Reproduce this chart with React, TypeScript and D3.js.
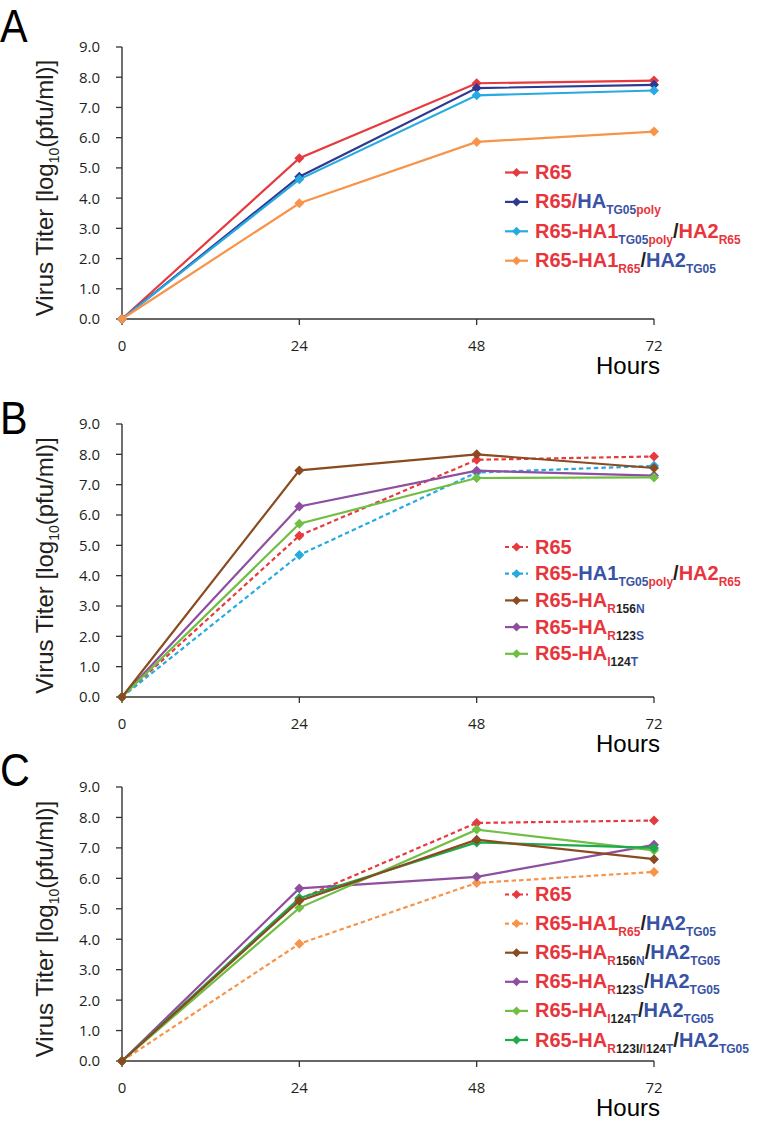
import React from "react";
import * as d3 from "d3";

// ---------- data ----------
const hours = [0, 24, 48, 72];
const yTicks = [0, 1, 2, 3, 4, 5, 6, 7, 8, 9];
const xTickLabels = ["0", "24", "48", "72"];

// Panel A
const r65A = [0, 5.32, 7.8, 7.89];
const polyA = [0, 4.71, 7.64, 7.75];
const ha1polyA = [0, 4.62, 7.4, 7.56];
const ha1r65A = [0, 3.83, 5.86, 6.2];
// Panel B
const r65B = [0, 5.32, 7.82, 7.93];
const ha1polyB = [0, 4.68, 7.4, 7.62];
const r156nB = [0, 7.47, 8.0, 7.55];
const r123sB = [0, 6.28, 7.46, 7.3];
const i124tB = [0, 5.71, 7.22, 7.24];
// Panel C
const r65C = [0, 5.32, 7.82, 7.9];
const ha1r65C = [0, 3.85, 5.85, 6.21];
const r156nC = [0, 5.26, 7.27, 6.63];
const r123sC = [0, 5.67, 6.05, 7.1];
const i124tC = [0, 5.03, 7.6, 6.92];
const dblC = [0, 5.35, 7.18, 7.0];

const RED = "#e8343b";
const BLUE = "#3953a4";
const BLK = "#231f20";

type Seg = { t: string; c: string; sub?: boolean };
type Series = { values: number[]; color: string; dashed: boolean; label: Seg[] };

const lblR65: Seg[] = [{ t: "R65", c: RED }];
const lblPolyA: Seg[] = [
  { t: "R65/", c: RED },
  { t: "HA", c: BLUE },
  { t: "TG05", c: BLUE, sub: true },
  { t: "poly", c: RED, sub: true },
];
const lblHa1PolyA: Seg[] = [
  { t: "R65-HA1", c: RED },
  { t: "TG05", c: BLUE, sub: true },
  { t: "poly", c: RED, sub: true },
  { t: "/", c: BLK },
  { t: "HA2", c: RED },
  { t: "R65", c: RED, sub: true },
];
const lblHa1PolyB: Seg[] = [
  { t: "R65-", c: RED },
  { t: "HA1", c: BLUE },
  { t: "TG05", c: BLUE, sub: true },
  { t: "poly", c: RED, sub: true },
  { t: "/", c: BLK },
  { t: "HA2", c: RED },
  { t: "R65", c: RED, sub: true },
];
const lblHa1R65: Seg[] = [
  { t: "R65-HA1", c: RED },
  { t: "R65", c: RED, sub: true },
  { t: "/", c: BLK },
  { t: "HA2", c: BLUE },
  { t: "TG05", c: BLUE, sub: true },
];
const mut = (a: string, n: string, b: string): Seg[] => [
  { t: "R65-HA", c: RED },
  { t: a, c: RED, sub: true },
  { t: n, c: BLK, sub: true },
  { t: b, c: BLUE, sub: true },
];
const tg05: Seg[] = [
  { t: "/", c: BLK },
  { t: "HA2", c: BLUE },
  { t: "TG05", c: BLUE, sub: true },
];
const lblDbl: Seg[] = [
  { t: "R65-HA", c: RED },
  { t: "R", c: RED, sub: true },
  { t: "123I/", c: BLK, sub: true },
  { t: "I", c: RED, sub: true },
  { t: "124", c: BLK, sub: true },
  { t: "T", c: BLUE, sub: true },
  ...tg05,
];

const C_R65 = "#e63a3f";
const C_DBLUE = "#2e3a92";
const C_CYAN = "#27aae1";
const C_ORANGE = "#f7944a";
const C_BROWN = "#8a4b20";
const C_PURPLE = "#8e4f9f";
const C_LGREEN = "#70bf44";
const C_GREEN = "#1daa4a";

const seriesA: Series[] = [
  { values: r65A, color: C_R65, dashed: false, label: lblR65 },
  { values: polyA, color: C_DBLUE, dashed: false, label: lblPolyA },
  { values: ha1polyA, color: C_CYAN, dashed: false, label: lblHa1PolyA },
  { values: ha1r65A, color: C_ORANGE, dashed: false, label: lblHa1R65 },
];
const seriesB: Series[] = [
  { values: r65B, color: C_R65, dashed: true, label: lblR65 },
  { values: ha1polyB, color: C_CYAN, dashed: true, label: lblHa1PolyB },
  { values: r156nB, color: C_BROWN, dashed: false, label: mut("R", "156", "N") },
  { values: r123sB, color: C_PURPLE, dashed: false, label: mut("R", "123", "S") },
  { values: i124tB, color: C_LGREEN, dashed: false, label: mut("I", "124", "T") },
];
const seriesC: Series[] = [
  { values: r65C, color: C_R65, dashed: true, label: lblR65 },
  { values: ha1r65C, color: C_ORANGE, dashed: true, label: lblHa1R65 },
  { values: r156nC, color: C_BROWN, dashed: false, label: [...mut("R", "156", "N"), ...tg05] },
  { values: r123sC, color: C_PURPLE, dashed: false, label: [...mut("R", "123", "S"), ...tg05] },
  { values: i124tC, color: C_LGREEN, dashed: false, label: [...mut("I", "124", "T"), ...tg05] },
  { values: dblC, color: C_GREEN, dashed: false, label: lblDbl },
];

type Panel = {
  letter: string;
  letterY: number;
  top: number;
  bottom: number;
  series: Series[];
  drawOrder: number[];
  legendY: number;
  legendStep: number;
};

const panels: Panel[] = [
  { letter: "A", letterY: 42, top: 47, bottom: 319, series: seriesA, drawOrder: [0, 1, 2, 3], legendY: 179, legendStep: 29.4 },
  { letter: "B", letterY: 434, top: 424, bottom: 697, series: seriesB, drawOrder: [0, 1, 3, 4, 2], legendY: 553.5, legendStep: 26.7 },
  { letter: "C", letterY: 786, top: 787, bottom: 1061, series: seriesC, drawOrder: [0, 1, 3, 4, 5, 2], legendY: 901, legendStep: 29.1 },
];

const X0 = 122;
const X1 = 654;
const FONT = "'Liberation Sans', Arial, sans-serif";
const TICKFONT = "'Open Sans', 'Liberation Sans', sans-serif";

function diamond(cx: number, cy: number, r: number) {
  return `M${cx},${cy - r}L${cx + r},${cy}L${cx},${cy + r}L${cx - r},${cy}Z`;
}

function LegendText({ x, y, segs }: { x: number; y: number; segs: Seg[] }) {
  let cur = 0;
  return (
    <text x={x} y={y} fontFamily={FONT} fontWeight="bold" fontSize={20}>
      {segs.map((s, i) => {
        const target = s.sub ? 6 : 0;
        const dy = target - cur;
        cur = target;
        return (
          <tspan key={i} dy={dy} fill={s.c} fontSize={s.sub ? 12 : 20}>
            {s.t}
          </tspan>
        );
      })}
    </text>
  );
}

function PanelView({ p }: { p: Panel }) {
  const x = d3.scaleLinear().domain([0, 72]).range([X0, X1]);
  const y = d3.scaleLinear().domain([0, 9]).range([p.bottom, p.top]);
  const line = d3
    .line<number>()
    .x((_, i) => x(hours[i]))
    .y((v) => y(v));
  const midY = (p.top + p.bottom) / 2 + 5;
  return (
    <g>
      <text
        x={0}
        y={p.letterY}
        fontFamily={FONT}
        fontSize={47}
        fill="#000"
        transform={`scale(0.88,1)`}
      >
        {p.letter}
      </text>
      {/* y-axis title */}
      <text
        transform={`translate(53,${midY}) rotate(-90)`}
        textAnchor="middle"
        fontFamily={FONT}
        fontSize={24}
        fill={BLK}
      >
        Virus Titer [log
        <tspan fontSize={14} dy={6}>
          10
        </tspan>
        <tspan dy={-6}>(pfu/ml)]</tspan>
      </text>
      {/* axes */}
      <line x1={X0} x2={X0} y1={y(9)} y2={y(0)} stroke="#333" strokeWidth={1.4} />
      <line x1={X0} x2={X1} y1={y(0)} y2={y(0)} stroke="#333" strokeWidth={1.4} />
      {yTicks.map((t) => (
        <g key={t}>
          <line x1={X0 - 6} x2={X0} y1={y(t)} y2={y(t)} stroke="#333" strokeWidth={1.3} />
          <text
            x={X0 - 22}
            y={y(t)}
            dy="0.36em"
            textAnchor="end"
            fontFamily={TICKFONT}
            fontSize={15}
            fill={BLK}
          >
            {t.toFixed(1)}
          </text>
        </g>
      ))}
      {hours.map((h, i) => (
        <g key={h}>
          <line x1={x(h)} x2={x(h)} y1={y(0)} y2={y(0) + 6} stroke="#333" strokeWidth={1.3} />
          <text
            x={x(h)}
            y={y(0) + 32}
            textAnchor="middle"
            fontFamily={TICKFONT}
            fontSize={15}
            fill={BLK}
          >
            {xTickLabels[i]}
          </text>
        </g>
      ))}
      <text x={628} y={y(0) + 55} textAnchor="middle" fontFamily={FONT} fontSize={24} fill="#000">
        Hours
      </text>
      {/* series */}
      {p.drawOrder.map((si) => {
        const s = p.series[si];
        return (
          <g key={si}>
            <path
              d={line(s.values) || ""}
              fill="none"
              stroke={s.color}
              strokeWidth={2.2}
              strokeDasharray={s.dashed ? "4.5,3" : undefined}
            />
            {s.values.map((v, i) => (
              <path key={i} d={diamond(x(hours[i]), y(v), 5)} fill={s.color} />
            ))}
          </g>
        );
      })}
      {/* legend */}
      {p.series.map((s, i) => {
        const ly = p.legendY + i * p.legendStep;
        const my = ly - 6.5;
        return (
          <g key={i}>
            <line
              x1={505}
              x2={528}
              y1={my}
              y2={my}
              stroke={s.color}
              strokeWidth={2.2}
              strokeDasharray={s.dashed ? "4,3" : undefined}
            />
            <path d={diamond(516.5, my, 4.5)} fill={s.color} />
            <LegendText x={535} y={ly} segs={s.label} />
          </g>
        );
      })}
    </g>
  );
}

export default function App() {
  return (
    <svg
      width={767}
      height={1125}
      viewBox="0 0 767 1125"
      style={{ position: "absolute", left: 0, top: 0, display: "block", background: "#fff" }}
    >
      <rect width={767} height={1125} fill="#fff" />
      {panels.map((p) => (
        <PanelView key={p.letter} p={p} />
      ))}
    </svg>
  );
}
